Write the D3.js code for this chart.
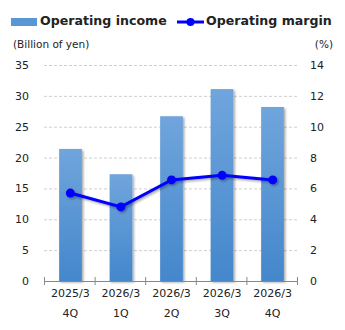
<!DOCTYPE html>
<html>
<head>
<meta charset="utf-8">
<script src="https://cdn.jsdelivr.net/npm/d3@7"></script>
<style>
  body { margin: 0; background: #fff; }
  text { font-family: "DejaVu Sans", Verdana, sans-serif; fill: #222; }
</style>
</head>
<body>
<div id="chart"></div>
<script>
var w = 345, h = 330;
var marginLeft = 44, marginRight = 48, marginTop = 65, marginBottom = 49;

// data
var periods = ["2025/3", "2026/3", "2026/3", "2026/3", "2026/3"];
var quarters = ["4Q", "1Q", "2Q", "3Q", "4Q"];
var income = [21.4, 17.3, 26.7, 31.1, 28.2];   // billion of yen
var margin = [5.7, 4.8, 6.55, 6.85, 6.55];      // %
var leftTicks = [0, 5, 10, 15, 20, 25, 30, 35];
var rightTicks = [0, 2, 4, 6, 8, 10, 12, 14];

var svg = d3.select("#chart").append("svg")
  .attr("width", w).attr("height", h);

var defs = svg.append("defs");
var grad = defs.append("linearGradient").attr("id", "barGrad")
  .attr("x1", 0).attr("y1", 0).attr("x2", 0).attr("y2", 1);
grad.append("stop").attr("offset", "0%").attr("stop-color", "#70a5dc");
grad.append("stop").attr("offset", "100%").attr("stop-color", "#4487cc");

var shadow = defs.append("filter").attr("id", "shadow")
  .attr("x", "-30%").attr("y", "-30%").attr("width", "160%").attr("height", "160%");
shadow.append("feDropShadow").attr("dx", 1.5).attr("dy", 1.5)
  .attr("stdDeviation", 1.2).attr("flood-color", "#000").attr("flood-opacity", 0.35);

var x = d3.scaleBand().domain(d3.range(income.length))
  .range([marginLeft, w - marginRight]).paddingInner(0.55).paddingOuter(0.28);
var xb = d3.scaleBand().domain(d3.range(income.length))
  .range([marginLeft, w - marginRight]);
var yL = d3.scaleLinear().domain([0, 35]).range([h - marginBottom, marginTop]);
var yR = d3.scaleLinear().domain([0, 14]).range([h - marginBottom, marginTop]);

// gridlines
svg.append("g").selectAll("line")
  .data(leftTicks.slice(1))
  .enter().append("line")
  .attr("x1", marginLeft).attr("x2", w - marginRight)
  .attr("y1", function(d) { return yL(d) + 0.5; })
  .attr("y2", function(d) { return yL(d) + 0.5; })
  .attr("stroke", "#cfcfcf").attr("stroke-dasharray", "3,2");

// bars
svg.append("g").selectAll("rect")
  .data(income)
  .enter().append("rect")
  .attr("x", function(d, i) { return x(i) + 1; })
  .attr("width", x.bandwidth())
  .attr("y", function(d) { return yL(d); })
  .attr("height", function(d) { return yL(0) - yL(d); })
  .attr("fill", "url(#barGrad)")
  .attr("filter", "url(#shadow)");

// left axis labels
svg.append("g").selectAll("text")
  .data(leftTicks)
  .enter().append("text")
  .attr("x", 29).attr("y", function(d) { return yL(d) + 4; })
  .attr("text-anchor", "end").attr("font-size", 11)
  .text(function(d) { return d; });

// right axis labels
svg.append("g").selectAll("text")
  .data(rightTicks)
  .enter().append("text")
  .attr("x", 310).attr("y", function(d) { return yR(d) + 4; })
  .attr("text-anchor", "start").attr("font-size", 11)
  .text(function(d) { return d; });

// x axis
var xAxis = svg.append("g");
xAxis.append("line")
  .attr("x1", marginLeft).attr("x2", w - marginRight)
  .attr("y1", yL(0) + 0.5).attr("y2", yL(0) + 0.5)
  .attr("stroke", "#888");
xAxis.selectAll("line.tick")
  .data(d3.range(income.length + 1))
  .enter().append("line").attr("class", "tick")
  .attr("x1", function(d) { return marginLeft + d * xb.bandwidth() + 0.5; })
  .attr("x2", function(d) { return marginLeft + d * xb.bandwidth() + 0.5; })
  .attr("y1", yL(0) - 4).attr("y2", yL(0) + 4)
  .attr("stroke", "#888");
xAxis.selectAll("text.period")
  .data(periods)
  .enter().append("text").attr("class", "period")
  .attr("x", function(d, i) { return xb(i) + xb.bandwidth() / 2 + 1; })
  .attr("y", 297).attr("text-anchor", "middle").attr("font-size", 11)
  .text(function(d) { return d; });
xAxis.selectAll("text.quarter")
  .data(quarters)
  .enter().append("text").attr("class", "quarter")
  .attr("x", function(d, i) { return xb(i) + xb.bandwidth() / 2 + 1; })
  .attr("y", 317).attr("text-anchor", "middle").attr("font-size", 11)
  .text(function(d) { return d; });

// margin line
var line = d3.line()
  .x(function(d, i) { return xb(i) + xb.bandwidth() / 2 + 1; })
  .y(function(d) { return yR(d); });
var lineG = svg.append("g").attr("filter", "url(#shadow)");
lineG.append("path")
  .attr("d", line(margin))
  .attr("fill", "none").attr("stroke", "#0000ff").attr("stroke-width", 3);
lineG.selectAll("circle")
  .data(margin)
  .enter().append("circle")
  .attr("cx", function(d, i) { return xb(i) + xb.bandwidth() / 2 + 1; })
  .attr("cy", function(d) { return yR(d); })
  .attr("r", 4.5).attr("fill", "#0000ff");

// axis titles
svg.append("text").attr("x", 13).attr("y", 48).attr("font-size", 10.5)
  .text("(Billion of yen)");
svg.append("text").attr("x", 333).attr("y", 48).attr("font-size", 10.5)
  .attr("text-anchor", "end").text("(%)");

// legend
var legend = svg.append("g");
legend.append("rect").attr("x", 11).attr("y", 18).attr("width", 26).attr("height", 8)
  .attr("fill", "#5a96d4");
legend.append("text").attr("x", 40).attr("y", 25).attr("font-size", 12.6)
  .attr("font-weight", "bold").attr("fill", "#111").text("Operating income");
legend.append("line").attr("x1", 177).attr("x2", 204).attr("y1", 22).attr("y2", 22)
  .attr("stroke", "#0000ff").attr("stroke-width", 3);
legend.append("circle").attr("cx", 190.5).attr("cy", 22).attr("r", 4).attr("fill", "#0000ff");
legend.append("text").attr("x", 206).attr("y", 25).attr("font-size", 12.6)
  .attr("font-weight", "bold").attr("fill", "#111").text("Operating margin");
</script>
</body>
</html>
